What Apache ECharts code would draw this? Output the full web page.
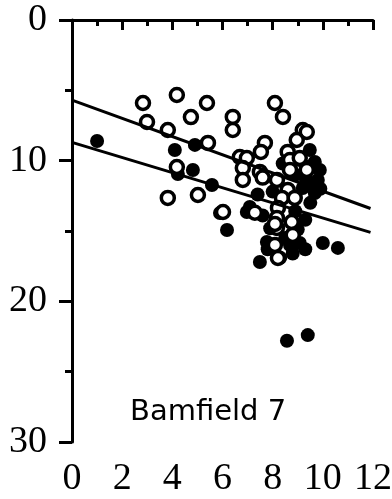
<!DOCTYPE html>
<html style="height: 100%">
<head>
  <meta charset="utf-8">
</head>
<body style="height: 100%; margin: 0; background: #fff">
  <div id="container" style="width: 392px; height: 499px"></div>

  <script type="text/javascript" src="https://cdn.jsdelivr.net/npm/echarts@6/dist/echarts.min.js"></script>
  <script type="text/javascript">
    // open circles [x, y]
    var openPts = [
      [2.83, 5.9], [4.18, 5.33], [5.38, 5.9], [2.99, 7.25], [4.74, 6.9],
      [3.82, 7.82], [5.42, 8.74], [4.18, 10.45], [5.02, 12.44], [3.82, 12.65],
      [6.41, 6.89], [6.41, 7.82], [8.09, 5.9], [8.41, 6.89], [7.69, 8.74],
      [7.53, 9.38], [9.2, 7.82], [9.36, 7.96], [8.96, 8.53], [6.69, 9.74], [6.97, 9.81],
      [6.81, 10.52], [7.49, 10.8], [6.81, 11.37], [8.6, 9.38], [8.69, 9.95],
      [8.69, 10.66], [8.17, 11.37], [8.6, 12.08], [8.37, 12.65], [8.88, 12.65],
      [8.21, 13.36], [8.17, 14.07], [8.76, 14.36], [8.17, 14.78], [8.8, 15.28],
      [8.09, 15.99], [8.21, 16.92], [9.36, 10.66], [9.08, 9.81], [6.02, 13.65],
      [7.29, 13.7], [8.09, 14.5], [7.6, 11.2]
    ];
    // filled circles [x, y]
    var filledPts = [
      [1.0, 8.6], [4.1, 9.24], [4.82, 10.66], [4.22, 10.95], [5.58, 11.73],
      [4.9, 8.88], [5.9, 13.72], [9.48, 9.24], [9.68, 10.09], [9.88, 10.66],
      [9.8, 11.37], [9.68, 12.3], [7.09, 13.29], [6.97, 13.65], [6.18, 14.93],
      [7.77, 15.78], [9.08, 15.85], [10.0, 15.85], [10.6, 16.2], [7.49, 17.2],
      [8.57, 22.8], [9.4, 22.4], [9.08, 9.95], [9.2, 11.94], [8.69, 16.0],
      [9.9, 12.0], [9.5, 13.0], [9.3, 16.3], [8.3, 16.9],
      [8.9, 11.0], [9.3, 11.2], [9.5, 10.4], [8.4, 10.2], [8.0, 12.2],
      [7.6, 13.9], [7.9, 14.8], [8.5, 15.5], [9.0, 14.9], [9.3, 14.2],
      [8.9, 13.6], [7.4, 12.4], [9.6, 11.8], [8.8, 16.6], [7.8, 16.3]
    ];
    // regression lines
    var upperLine = [[0, 5.7], [11.9, 13.4]];
    var lowerLine = [[0, 8.7], [11.9, 15.1]];
    var label = 'Bamfield 7';

    var myChart = echarts.init(document.getElementById('container'));

    var axisLine = { lineStyle: { color: '#000', width: 3 } };
    var serif = '"Liberation Serif", "Times New Roman", serif';

    var option = {
      animation: false,
      grid: { left: 72, right: 19, top: 20, bottom: 57, outerBoundsMode: 'none' },
      xAxis: {
        type: 'value', min: 0, max: 12, interval: 2,
        axisLine: axisLine,
        axisTick: { length: 10, lineStyle: { color: '#000', width: 3 } },
        minorTick: { show: true, splitNumber: 2, length: 6, lineStyle: { color: '#000', width: 3 } },
        splitLine: { show: false },
        axisLabel: { margin: 18, color: '#000', fontFamily: serif, fontSize: 38 }
      },
      yAxis: {
        type: 'value', min: 0, max: 30, interval: 10, inverse: true,
        axisLine: axisLine,
        axisTick: { length: 13, lineStyle: { color: '#000', width: 3 } },
        minorTick: { show: true, splitNumber: 2, length: 7, lineStyle: { color: '#000', width: 3 } },
        splitLine: { show: false },
        axisLabel: { margin: 25, color: '#000', fontFamily: serif, fontSize: 38 }
      },
      graphic: [{
        type: 'text', left: 130, top: 398,
        style: { text: label, fill: '#000', fontFamily: 'DejaVu Sans', fontSize: 29 }
      }],
      series: [
        {
          type: 'line', data: upperLine, symbol: 'none',
          lineStyle: { color: '#000', width: 3 }
        },
        {
          type: 'line', data: lowerLine, symbol: 'none',
          lineStyle: { color: '#000', width: 3 }
        },
        {
          type: 'scatter', data: filledPts, symbolSize: 14,
          itemStyle: { color: '#000', opacity: 1 }
        },
        {
          type: 'scatter', data: openPts, symbolSize: 13,
          itemStyle: { color: '#fff', borderColor: '#000', borderWidth: 3.5, opacity: 1 }
        }
      ]
    };

    myChart.setOption(option);
    window.addEventListener('resize', myChart.resize);
  </script>
</body>
</html>
